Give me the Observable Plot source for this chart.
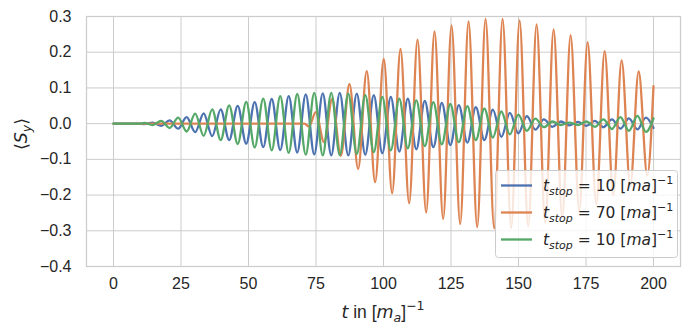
<!DOCTYPE html>
<html><head><meta charset="utf-8">
<script src="https://cdn.jsdelivr.net/npm/d3@7"></script>
<script src="https://cdn.jsdelivr.net/npm/@observablehq/plot@0.6"></script>
<style>body{margin:0;background:#fff}</style>
</head><body><div id="chart"></div>
<script>
// Extrema of each curve (t, value)
const blueT = [0,10,11.35,14.5,17.65,20.8,23.95,27.1,30.25,33.4,36.55,39.7,42.85,46.0,49.15,52.3,55.45,58.6,61.75,64.9,68.05,71.2,74.35,77.5,80.65,83.8,86.95,90.1,93.25,96.4,99.55,102.7,105.85,109.0,112.15,115.3,118.45,121.6,124.75,127.9,131.05,134.2,137.35,140.5,143.65,146.8,149.95,153.1,156.25,159.4,162.55,165.7,168.85,172.0,175.15,178.3,181.45,184.6,187.75,190.9,194.05,197.2,200];
const blueV = [0,0,-0.001,0.003,-0.006,0.009,-0.014,0.018,-0.024,0.029,-0.035,0.040,-0.046,0.050,-0.056,0.060,-0.066,0.069,-0.074,0.077,-0.081,0.082,-0.086,0.085,-0.089,0.086,-0.089,0.084,-0.087,0.080,-0.083,0.075,-0.078,0.070,-0.072,0.064,-0.066,0.058,-0.060,0.052,-0.053,0.046,-0.046,0.039,-0.037,0.030,-0.027,0.021,-0.017,0.012,-0.009,0.006,-0.005,0.005,-0.006,0.008,-0.010,0.012,-0.014,0.015,-0.016,0.017,-0.012];
const orangeT = [0,70.7,72.4,74.9,78.0,81.0,84.2,87.4,90.6,93.8,96.9,100.1,103.2,106.3,109.5,112.6,115.8,118.9,122.1,125.2,128.4,131.5,134.7,137.8,141.0,144.1,147.3,150.4,153.6,156.7,159.9,163.0,166.2,169.3,172.5,175.6,178.8,181.9,185.1,188.2,191.4,194.5,197.7,200];
const orangeV = [0,0,-0.008,0.032,-0.052,0.069,-0.090,0.111,-0.127,0.147,-0.164,0.181,-0.195,0.209,-0.223,0.235,-0.249,0.258,-0.267,0.275,-0.281,0.286,-0.290,0.293,-0.293,0.293,-0.292,0.289,-0.287,0.278,-0.277,0.264,-0.262,0.248,-0.245,0.228,-0.225,0.203,-0.200,0.177,-0.175,0.146,-0.145,0.105];
const greenT = blueT;
const greenV = [0,0,0.002,-0.004,0.008,-0.012,0.017,-0.022,0.028,-0.034,0.040,-0.046,0.051,-0.057,0.061,-0.067,0.070,-0.075,0.077,-0.082,0.083,-0.087,0.086,-0.089,0.086,-0.088,0.084,-0.085,0.080,-0.080,0.075,-0.075,0.070,-0.069,0.065,-0.063,0.060,-0.058,0.055,-0.052,0.049,-0.046,0.042,-0.039,0.034,-0.030,0.025,-0.020,0.014,-0.010,0.006,-0.004,0.003,-0.004,0.006,-0.009,0.012,-0.015,0.018,-0.020,0.022,-0.023,0.015];

const xTicks = [0,25,50,75,100,125,150,175,200];
const yTicks = [-0.4,-0.3,-0.2,-0.1,0,0.1,0.2,0.3];
const legendNums = ["10","70","10"];
const colors = ["#4c72b0","#dd8452","#55a868"];

const series = [
  {T: blueT, V: blueV, c: colors[0]},
  {T: orangeT, V: orangeV, c: colors[1]},
  {T: greenT, V: greenV, c: colors[2]}
].map(s => ({c: s.c, rows: s.T.map((t, i) => ({t, v: s.V[i]}))}));

const sans = "'Liberation Sans', Arial, sans-serif";
const math = "'DejaVu Sans', sans-serif";

const chart = Plot.plot({
  width: 694, height: 334,
  marginLeft: 86, marginRight: 14, marginTop: 16, marginBottom: 68,
  style: {fontFamily: sans, fontSize: "16px", color: "#262626", background: "#fff"},
  x: {domain: [-10, 210]},
  y: {domain: [-0.4, 0.3]},
  marks: [
    Plot.gridX(xTicks, {stroke: "#cccccc", strokeOpacity: 1, strokeWidth: 1}),
    Plot.gridY(yTicks, {stroke: "#cccccc", strokeOpacity: 1, strokeWidth: 1}),
    Plot.frame({stroke: "#cccccc", strokeWidth: 1.25}),
    ...series.map(s => Plot.line(s.rows, {x: "t", y: "v", stroke: s.c, strokeWidth: 2.3, curve: "monotone-x"})),
    Plot.axisX(xTicks, {tickSize: 0, tickPadding: 11, label: null, fill: "#262626"}),
    Plot.axisY(yTicks, {tickSize: 0, tickPadding: 15, label: null, tickFormat: d3.format(".1f"), fill: "#262626"})
  ]
});
document.getElementById("chart").appendChild(chart);

const svg = d3.select(chart);
// x label
const xl = svg.append("text").attr("x", 383).attr("y", 318).attr("text-anchor", "middle")
  .attr("font-size", 17.5).attr("fill", "#262626").attr("font-family", sans);
xl.append("tspan").attr("font-family", math).attr("font-style", "italic").text("t");
xl.append("tspan").text(" in [");
xl.append("tspan").attr("font-family", math).attr("font-style", "italic").text("m");
xl.append("tspan").attr("font-family", math).attr("font-style", "italic").attr("font-size", 12.5).attr("dy", 3.5).text("a");
xl.append("tspan").attr("dy", -3.5).text("]");
xl.append("tspan").attr("font-family", math).attr("font-size", 12.5).attr("dy", -8).text("\u22121");
// y label
const yl = svg.append("text").attr("transform", "translate(27,134) rotate(-90)").attr("text-anchor", "middle")
  .attr("font-size", 17.5).attr("fill", "#262626").attr("font-family", math);
yl.append("tspan").text("\u27e8");
yl.append("tspan").attr("font-style", "italic").text("S");
yl.append("tspan").attr("font-style", "italic").attr("font-size", 12.5).attr("dy", 3.5).text("y");
yl.append("tspan").attr("dy", -3.5).text("\u27e9");

// legend
const lg = svg.append("g");
lg.append("rect").attr("x", 495.5).attr("y", 170.5).attr("width", 182).attr("height", 87).attr("rx", 3)
  .attr("fill", "#ffffff").attr("fill-opacity", 0.8).attr("stroke", "#cccccc").attr("stroke-width", 1);
legendNums.forEach((n, i) => {
  const y = 185.5 + i * 27;
  lg.append("line").attr("x1", 501).attr("x2", 532).attr("y1", y).attr("y2", y)
    .attr("stroke", colors[i]).attr("stroke-width", 2.3);
  const t = lg.append("text").attr("x", 543).attr("y", y + 5.5).attr("text-anchor", "start")
    .attr("font-family", math).attr("font-size", 15.5).attr("fill", "#262626");
  t.append("tspan").attr("font-style", "italic").text("t");
  t.append("tspan").attr("font-style", "italic").attr("font-size", 11).attr("dy", 3.5).text("stop");
  t.append("tspan").attr("dy", -3.5).text(" = " + n + " [");
  t.append("tspan").attr("font-style", "italic").text("ma");
  t.append("tspan").text("]");
  t.append("tspan").attr("font-size", 11).attr("dy", -7).text("\u22121");
});
</script></body></html>
